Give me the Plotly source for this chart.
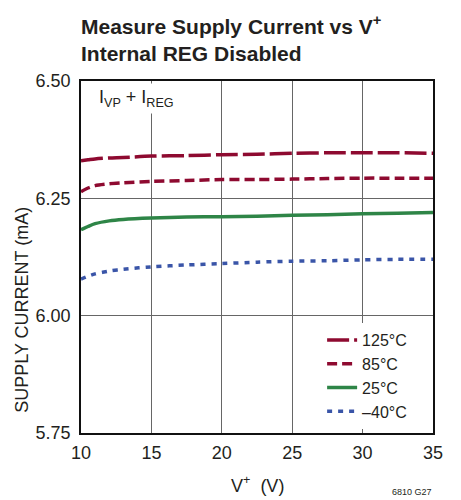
import plotly.graph_objects as go

voltage = [10, 10.5, 11, 12, 13, 15, 17.5, 20, 22.5, 25, 27.5, 30, 32.5, 35]
i_125 = [6.330, 6.332, 6.334, 6.336, 6.337, 6.340, 6.341, 6.343, 6.344, 6.346, 6.347, 6.347, 6.347, 6.346]
i_85 = [6.264, 6.272, 6.277, 6.281, 6.283, 6.286, 6.288, 6.290, 6.290, 6.291, 6.292, 6.293, 6.293, 6.293]
i_25 = [6.183, 6.190, 6.196, 6.202, 6.205, 6.208, 6.210, 6.211, 6.212, 6.214, 6.215, 6.217, 6.218, 6.220]
i_m40 = [6.078, 6.084, 6.089, 6.095, 6.099, 6.104, 6.108, 6.111, 6.114, 6.116, 6.117, 6.119, 6.120, 6.120]

series_names = ["125°C", "85°C", "25°C", "–40°C"]
y_ticks = [5.75, 6.00, 6.25, 6.50]
x_ticks = [10, 15, 20, 25, 30, 35]

FONT = "Liberation Sans, Arial, sans-serif"
TXT = "#231f20"
RED = "#8e0a30"
GREEN = "#2e8547"
BLUE = "#3a55a8"

fig = go.Figure()
styles = [
    (i_125, RED, "22px,5px"),
    (i_85, RED, "10px,5px"),
    (i_25, GREEN, "solid"),
    (i_m40, BLUE, "5px,6px"),
]
for name, (ys, col, dash) in zip(series_names, styles):
    fig.add_trace(go.Scatter(
        x=voltage, y=ys, name=name, mode="lines",
        line=dict(color=col, width=3.5, dash=dash, shape="spline", smoothing=0.8),
    ))

fig.update_layout(
    width=453, height=492,
    margin=dict(l=73, r=28, t=73, b=67),
    paper_bgcolor="white", plot_bgcolor="white",
    font=dict(family=FONT, color=TXT, size=18),
    showlegend=True,
    legend=dict(
        x=0.685, y=0.3125, xanchor="left", yanchor="top",
        bgcolor="white", borderwidth=0,
        font=dict(family=FONT, size=16, color=TXT),
        tracegroupgap=0, itemwidth=30,
    ),
    xaxis=dict(
        range=[10, 35], tickvals=x_ticks, ticktext=[str(v) for v in x_ticks],
        showgrid=True, gridcolor="#666", gridwidth=1,
        showline=True, linecolor="#111", linewidth=1.5, mirror=True,
        ticks="", ticklabelstandoff=3, zeroline=False,
        tickfont=dict(family=FONT, size=18, color=TXT),
    ),
    yaxis=dict(
        range=[5.75, 6.50], tickvals=y_ticks, ticktext=[f"{v:.2f}" for v in y_ticks],
        showgrid=True, gridcolor="#666", gridwidth=1,
        showline=True, linecolor="#111", linewidth=1.5, mirror=True,
        ticks="", ticklabelstandoff=5, zeroline=False,
        tickfont=dict(family=FONT, size=18, color=TXT),
    ),
    annotations=[
        dict(text="<b>Measure Supply Current vs V<sup>+</sup></b><br><b>Internal REG Disabled</b>",
             xref="paper", yref="paper", x=0.0, y=1.0, xanchor="left", yanchor="bottom",
             yshift=14, xshift=-2, align="left", showarrow=False,
             font=dict(family=FONT, size=21, color=TXT)),
        dict(text="I<sub>VP</sub> + I<sub>REG</sub>",
             xref="paper", yref="paper", x=0.04, y=0.995, xanchor="left", yanchor="top",
             align="left", showarrow=False, bgcolor="white", borderpad=3,
             font=dict(family=FONT, size=18, color=TXT)),
        dict(text="SUPPLY CURRENT (mA)", textangle=-90,
             xref="paper", yref="paper", x=0, y=0.35, xshift=-59,
             xanchor="center", yanchor="middle", showarrow=False,
             font=dict(family=FONT, size=18, color=TXT)),
        dict(text="V<sup>+</sup>  (V)",
             xref="paper", yref="paper", x=0.5, y=0, yshift=-51,
             xanchor="center", yanchor="middle", showarrow=False,
             font=dict(family=FONT, size=18, color=TXT)),
        dict(text="6810 G27",
             xref="paper", yref="paper", x=1.0, y=0, yshift=-59, xshift=1,
             xanchor="right", yanchor="middle", showarrow=False,
             font=dict(family=FONT, size=9, color=TXT)),
    ],
)

fig.write_html("out.html")
